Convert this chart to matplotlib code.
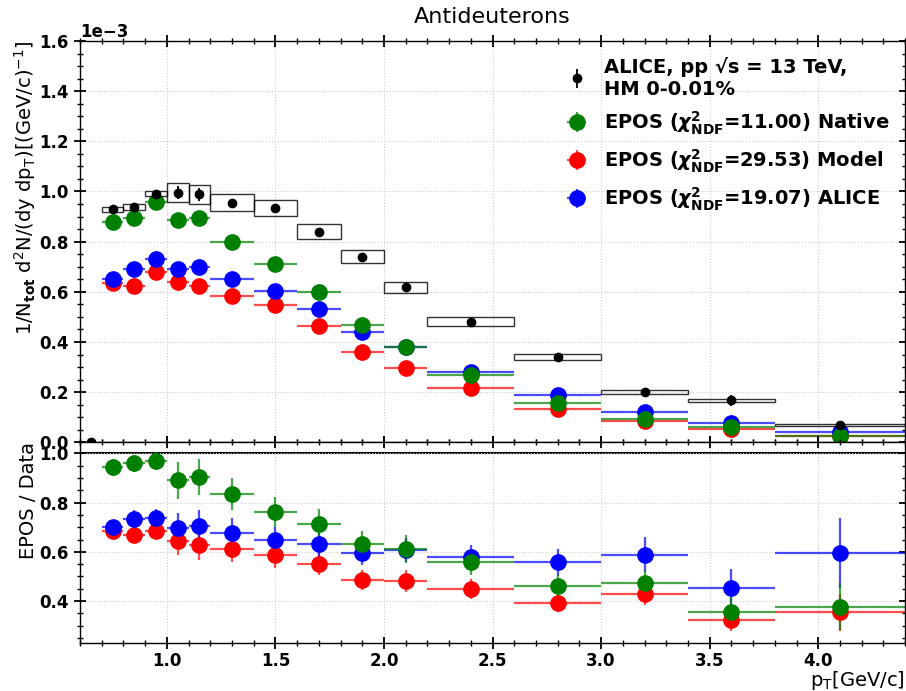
import matplotlib
matplotlib.use('Agg')
import matplotlib.pyplot as plt
from matplotlib.patches import Rectangle
from matplotlib.ticker import MultipleLocator
import numpy as np

# ---------------- data ----------------
bin_lo = [0.7, 0.8, 0.9, 1.0, 1.1, 1.2, 1.4, 1.6, 1.8, 2.0, 2.2, 2.6, 3.0, 3.4, 3.8]
bin_hi = [0.8, 0.9, 1.0, 1.1, 1.2, 1.4, 1.6, 1.8, 2.0, 2.2, 2.6, 3.0, 3.4, 3.8, 4.4]

# ALICE data (units of 1e-3)
data_val = [0.929, 0.939, 0.991, 0.995, 0.988, 0.956, 0.935, 0.840, 0.740, 0.619, 0.481, 0.339, 0.200, 0.167, 0.069]
data_stat = [0.008, 0.008, 0.010, 0.025, 0.025, 0.012, 0.010, 0.008, 0.008, 0.008, 0.007, 0.007, 0.008, 0.023, 0.012]
data_sys = [0.011, 0.012, 0.011, 0.038, 0.037, 0.035, 0.033, 0.030, 0.027, 0.022, 0.018, 0.012, 0.008, 0.007, 0.005]
# extra first-bin ALICE point (0.6-0.7) at zero
first_x = [0.65]
first_val = [0.0]

# EPOS spectra (units of 1e-3)
native_val = [0.879, 0.896, 0.959, 0.888, 0.893, 0.800, 0.712, 0.600, 0.468, 0.381, 0.268, 0.156, 0.093, 0.061, 0.026]
model_val = [0.637, 0.625, 0.677, 0.641, 0.625, 0.583, 0.549, 0.463, 0.360, 0.297, 0.215, 0.131, 0.085, 0.055, 0.024]
alice_val = [0.651, 0.691, 0.731, 0.691, 0.697, 0.652, 0.605, 0.531, 0.439, 0.379, 0.280, 0.189, 0.120, 0.076, 0.041]

# Ratios EPOS / Data
native_ratio = [0.943, 0.959, 0.969, 0.890, 0.905, 0.835, 0.761, 0.713, 0.631, 0.612, 0.557, 0.462, 0.473, 0.354, 0.378]
native_rerr = [0.036, 0.035, 0.035, 0.076, 0.074, 0.066, 0.060, 0.060, 0.052, 0.057, 0.050, 0.044, 0.054, 0.064, 0.095]
model_ratio = [0.686, 0.669, 0.686, 0.646, 0.628, 0.611, 0.588, 0.550, 0.486, 0.482, 0.449, 0.392, 0.430, 0.324, 0.355]
model_rerr = [0.020, 0.027, 0.025, 0.059, 0.060, 0.054, 0.054, 0.044, 0.040, 0.046, 0.040, 0.036, 0.046, 0.047, 0.075]
alice_ratio = [0.700, 0.735, 0.738, 0.696, 0.705, 0.678, 0.649, 0.631, 0.595, 0.608, 0.581, 0.557, 0.589, 0.453, 0.595]
alice_rerr = [0.030, 0.035, 0.035, 0.063, 0.064, 0.059, 0.054, 0.052, 0.047, 0.050, 0.047, 0.055, 0.070, 0.079, 0.142]

labels = ['ALICE, pp \u221as = 13 TeV,\nHM 0-0.01%',
          r'EPOS ($\boldsymbol{\chi}^{\mathbf{2}}_{\mathbf{NDF}}$=11.00) Native',
          r'EPOS ($\boldsymbol{\chi}^{\mathbf{2}}_{\mathbf{NDF}}$=29.53) Model',
          r'EPOS ($\boldsymbol{\chi}^{\mathbf{2}}_{\mathbf{NDF}}$=19.07) ALICE']

# ---------------- plotting ----------------
scale = 1e-3
lo = np.array(bin_lo); hi = np.array(bin_hi)
xc = (lo + hi) / 2
xe = (hi - lo) / 2

fig = plt.figure(figsize=(9.06, 6.91), dpi=100)
gs = fig.add_gridspec(2, 1, height_ratios=[2, 1], hspace=0,
                      left=0.0883, right=0.999, top=0.9407, bottom=0.0695)
ax = fig.add_subplot(gs[0])
axr = fig.add_subplot(gs[1], sharex=ax)

ms = 11
series = [
    (model_val, model_ratio, model_rerr, 'red', (1, 0, 0, 0.7), labels[2]),
    (alice_val, alice_ratio, alice_rerr, 'blue', (0, 0, 1, 0.7), labels[3]),
    (native_val, native_ratio, native_rerr, 'green', (0, 0.5, 0, 0.7), labels[1]),
]
handles = {}
for vals, rat, rerr, col, ecol, lab in series:
    h = ax.errorbar(xc, np.array(vals) * scale, xerr=xe, yerr=0.004 * scale * np.ones(len(xc)),
                    fmt='o', color=col, ecolor=ecol, ms=ms, elinewidth=1.6, capsize=0, label=lab)
    handles[lab] = h
    axr.errorbar(xc, rat, xerr=xe, yerr=rerr, fmt='o', color=col, ecolor=ecol,
                 ms=ms, elinewidth=1.6, capsize=0)

# systematic boxes
for l, h, v, s in zip(bin_lo, bin_hi, data_val, data_sys):
    ax.add_patch(Rectangle((l, (v - s) * scale), h - l, 2 * s * scale, fill=False,
                           edgecolor='black', linewidth=1.0, alpha=0.8, zorder=4))

hd = ax.errorbar(xc, np.array(data_val) * scale, yerr=np.array(data_stat) * scale,
                 fmt='o', color='black', ms=6, elinewidth=1.3, capsize=0, zorder=6,
                 label=labels[0])
ax.errorbar(first_x, np.array(first_val) * scale, fmt='o', color='black', ms=6,
            zorder=6, clip_on=False)

axr.axhline(1.0, color='black', linewidth=1.5, zorder=1)

# axes setup
ax.set_xlim(0.6, 4.4)
ax.set_ylim(0, 1.6e-3)
axr.set_ylim(0.23, 1.045)

ax.yaxis.set_major_locator(MultipleLocator(0.2e-3))
ax.yaxis.set_minor_locator(MultipleLocator(0.05e-3))
axr.yaxis.set_major_locator(MultipleLocator(0.2))
axr.yaxis.set_minor_locator(MultipleLocator(0.05))
axr.xaxis.set_major_locator(MultipleLocator(0.5))
axr.xaxis.set_minor_locator(MultipleLocator(0.1))

for a in (ax, axr):
    a.tick_params(which='both', direction='inout', top=True, right=True, labelsize=12)
    a.tick_params(which='major', length=9, width=1.3)
    a.tick_params(which='minor', length=5, width=1.0)
    a.grid(True, which='major', linestyle=':', color='#cccccc', linewidth=0.8)
    for sp in a.spines.values():
        sp.set_linewidth(1.0)
axr.tick_params(axis='x', which='major', pad=2)
plt.setp(ax.get_xticklabels(), visible=False)

ax.ticklabel_format(axis='y', style='sci', scilimits=(-3, -3))
fig.canvas.draw()
ot = ax.yaxis.get_offset_text()
ot.set_fontweight('bold')
ot.set_fontsize(12)
for lab in ax.get_yticklabels() + axr.get_yticklabels() + axr.get_xticklabels():
    lab.set_fontweight('bold')

ax.set_title('Antideuterons', fontsize=16, pad=13)
ax.set_ylabel(r'1/N$_{\mathbf{tot}}$ d$^2$N/(dy dp$_\mathrm{T}$)[(GeV/c)$^{-1}$]',
              fontsize=14, loc='top', labelpad=1)
axr.set_ylabel('EPOS / Data', fontsize=14, loc='top', labelpad=1)
axr.set_xlabel(r'p$_\mathrm{T}$[GeV/c]', fontsize=14, loc='right', labelpad=-1)

leg_handles = [hd, handles[labels[1]], handles[labels[2]], handles[labels[3]]]
ax.legend(leg_handles, labels, loc='upper right', frameon=False,
          prop={'weight': 'bold', 'size': 14}, handlelength=1.2, borderaxespad=0.4,
          labelspacing=0.55)

fig.savefig('out.png', dpi=100)
